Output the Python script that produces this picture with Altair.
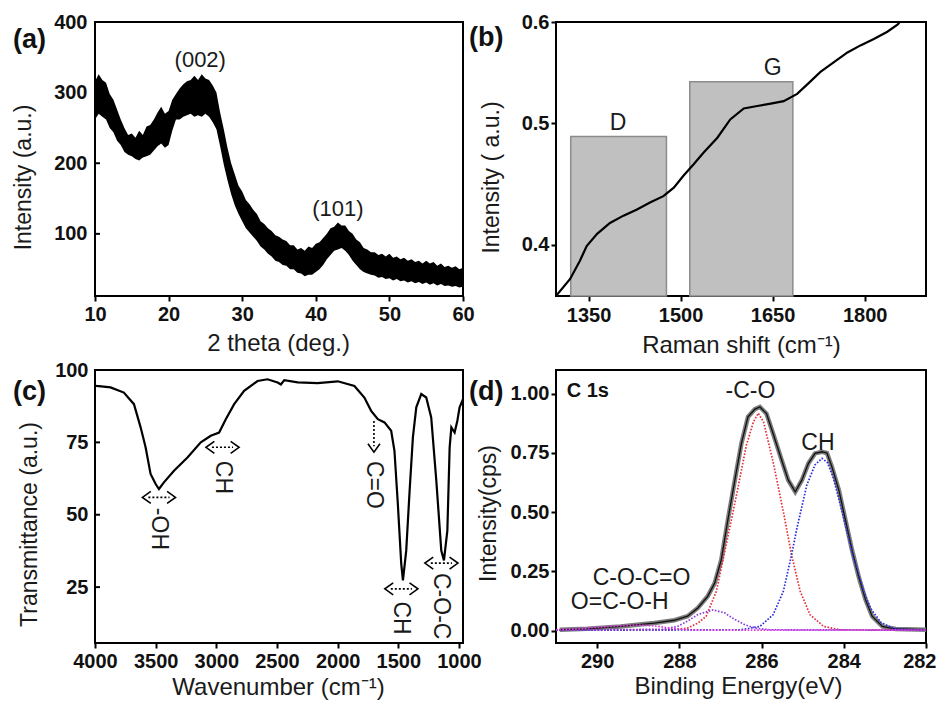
import altair as alt
import pandas as pd

FONT = "Liberation Sans"

# ---------------- (a) XRD ----------------
xrd_2theta = [10, 10.5, 11, 11.5, 12, 12.5, 13, 13.5, 14, 14.5, 15, 15.5, 16, 16.5, 17, 17.5, 18, 18.5,
              19, 19.5, 20, 20.5, 21, 21.5, 22, 22.5, 23, 23.5, 24, 24.5, 25, 25.5, 26, 26.5, 27, 27.5,
              28, 28.5, 29, 29.5, 30, 30.5, 31, 31.5, 32, 32.5, 33, 33.5, 34, 34.5, 35, 35.5, 36, 36.5,
              37, 37.5, 38, 38.5, 39, 39.5, 40, 40.5, 41, 41.5, 42, 42.5, 43, 43.5, 44, 44.5, 45, 45.5,
              46, 46.5, 47, 47.5, 48, 48.5, 49, 49.5, 50, 50.5, 51, 51.5, 52, 52.5, 53, 53.5, 54, 54.5,
              55, 55.5, 56, 56.5, 57, 57.5, 58, 58.5, 59, 59.5, 60]
xrd_hi = [316, 326, 318, 314, 298, 290, 276, 262, 250, 240, 242, 236, 246, 240, 252, 254, 262, 272,
          280, 270, 274, 290, 298, 306, 312, 316, 318, 324, 318, 326, 320, 318, 310, 300, 272, 248,
          222, 200, 184, 168, 160, 148, 142, 134, 128, 118, 114, 108, 104, 98, 96, 92, 90, 84,
          84, 78, 80, 76, 82, 80, 86, 88, 94, 100, 108, 110, 116, 112, 112, 104, 100, 92,
          88, 80, 78, 74, 74, 70, 72, 68, 72, 66, 68, 64, 66, 62, 64, 60, 62, 58,
          62, 58, 60, 55, 58, 53, 55, 52, 54, 50, 52]
xrd_lo = [262, 270, 266, 262, 250, 244, 232, 226, 216, 212, 210, 206, 204, 208, 210, 212, 218, 224,
          228, 222, 226, 246, 262, 262, 266, 268, 270, 266, 268, 266, 270, 266, 258, 248, 224, 198,
          176, 156, 140, 128, 118, 108, 102, 96, 90, 82, 78, 72, 68, 62, 60, 56, 55, 50,
          50, 45, 44, 40, 42, 42, 46, 50, 56, 64, 70, 76, 78, 80, 76, 70, 62, 56,
          50, 46, 44, 42, 41, 38, 39, 36, 37, 34, 36, 33, 34, 31, 33, 30, 32, 29,
          31, 28, 30, 27, 29, 26, 27, 25, 26, 24, 25]
xrd_ticks_x = [10, 20, 30, 40, 50, 60]
xrd_ticks_y = [100, 200, 300, 400]
xrd_labels = ["(002)", "(101)"]
xrd_label_x = [24.3, 43.0]
xrd_label_y = [346, 135]

# ---------------- (b) Raman ----------------
raman_x = [1297, 1320, 1336, 1347, 1364, 1385, 1407, 1429, 1451, 1472, 1489, 1505, 1521, 1538, 1560,
           1581, 1603, 1625, 1647, 1668, 1690, 1707, 1728, 1750, 1772, 1794, 1815, 1837, 1854, 1862]
raman_y = [0.358, 0.372, 0.387, 0.399, 0.409, 0.418, 0.424, 0.429, 0.435, 0.440, 0.447, 0.457, 0.466,
           0.476, 0.488, 0.503, 0.512, 0.514, 0.516, 0.518, 0.524, 0.532, 0.542, 0.550, 0.558, 0.564,
           0.569, 0.575, 0.581, 0.586]
band_names = ["D", "G"]
band_start = [1321, 1515]
band_end = [1477, 1683]
band_top = [0.489, 0.534]
band_label_x = [1398, 1650]
band_label_y = [0.500, 0.545]
raman_ticks_x = [1350, 1500, 1650, 1800]
raman_ticks_y = [0.4, 0.5, 0.583]

# ---------------- (c) FTIR ----------------
ir_w = [4000, 3988, 3872, 3762, 3679, 3624, 3583, 3542, 3500, 3473, 3432, 3349, 3238, 3128, 3046, 2977,
        2922, 2853, 2771, 2660, 2578, 2495, 2468, 2440, 2330, 2165, 1999, 1862, 1780, 1724, 1669, 1614,
        1559, 1532, 1504, 1476, 1462, 1435, 1407, 1380, 1352, 1311, 1270, 1229, 1187, 1146, 1124, 1096,
        1077, 1063, 1036, 1014, 995, 967]
ir_t = [94.6, 94.5, 94.0, 92.2, 88.2, 80.2, 73.3, 64.1, 60.6, 58.9, 61.2, 65.2, 69.8, 75.0, 77.3, 78.4,
        83.0, 88.2, 92.8, 96.2, 96.8, 95.7, 95.0, 96.5, 95.7, 95.5, 96.1, 94.5, 90.5, 85.9, 83.0, 81.9,
        79.0, 72.1, 53.7, 33.0, 27.3, 37.6, 58.3, 76.7, 87.1, 91.7, 90.5, 83.6, 61.8, 37.6, 34.2, 44.5,
        73.3, 80.2, 78.4, 82.4, 87.1, 89.9]
ir_ticks_x = [4000, 3500, 3000, 2500, 2000, 1500, 1000]
ir_ticks_y = [25, 50, 75, 100]
ir_arrow_w = [3473, 2949, 1475, 1145]
ir_arrow_t = [56.0, 73.3, 24.4, 33.3]
ir_arrow_half = 87
ir_down_w = [1701]
ir_down_top = [82.4]
ir_down_tip = [73.7]
ir_labels = ["-OH", "CH", "C=O", "CH", "C-O-C"]
ir_label_w = [3473, 2949, 1701, 1475, 1145]
ir_label_t = [45.1, 62.9, 60.3, 14.3, 18.4]

# ---------------- (d) XPS C1s ----------------
xps_be = [290.91, 290.24, 289.43, 288.61, 288.12, 287.80, 287.55, 287.31, 287.14, 286.98, 286.82, 286.65,
          286.49, 286.33, 286.16, 286.04, 285.88, 285.72, 285.51, 285.35, 285.18, 285.02, 284.86, 284.70,
          284.53, 284.41, 284.29, 284.12, 283.96, 283.80, 283.64, 283.47, 283.31, 283.06, 282.74, 281.96]
xps_env = [0.004, 0.008, 0.018, 0.032, 0.044, 0.061, 0.096, 0.145, 0.201, 0.299, 0.467, 0.635,
           0.790, 0.902, 0.935, 0.944, 0.916, 0.832, 0.719, 0.635, 0.586, 0.635, 0.706, 0.748,
           0.755, 0.750, 0.692, 0.593, 0.467, 0.341, 0.229, 0.130, 0.061, 0.018, 0.007, 0.004]
co_be = [291.0, 288.2, 287.8, 287.55, 287.35, 287.10, 286.86, 286.61, 286.37, 286.2, 286.08, 285.95,
         285.72, 285.47, 285.27, 285.06, 284.82, 284.49, 284.1, 282.0]
co_i = [0.003, 0.003, 0.011, 0.032, 0.060, 0.166, 0.362, 0.572, 0.782, 0.880, 0.918, 0.880,
        0.713, 0.502, 0.320, 0.166, 0.067, 0.018, 0.004, 0.003]
ch_be = [291.0, 286.5, 286.04, 285.72, 285.47, 285.27, 285.14, 284.90, 284.7, 284.53, 284.4, 284.25,
         284.00, 283.76, 283.51, 283.35, 283.1, 282.8, 282.4, 282.0]
ch_i = [0.002, 0.004, 0.018, 0.067, 0.166, 0.320, 0.432, 0.614, 0.700, 0.727, 0.710, 0.642,
        0.474, 0.306, 0.166, 0.095, 0.035, 0.010, 0.004, 0.003]
coco_be = [291.0, 288.4, 288.04, 287.8, 287.55, 287.18, 286.9, 286.65, 286.41, 286.13, 285.8, 282.0]
coco_i = [0.002, 0.006, 0.018, 0.040, 0.068, 0.088, 0.075, 0.047, 0.025, 0.010, 0.004, 0.002]
cooh_be = [291.0, 290.5, 290.0, 289.5, 289.0, 288.6, 288.2, 287.8, 287.4, 282.0]
cooh_i = [0.004, 0.008, 0.014, 0.020, 0.024, 0.020, 0.010, 0.004, 0.002, 0.002]
xps_ticks_x = [290, 288, 286, 284, 282]
xps_ticks_y = [0.0, 0.25, 0.5, 0.75, 1.0]
xps_labels = ["-C-O", "CH", "C-O-C=O", "O=C-O-H"]
xps_label_be = [286.27, 284.63, 288.92, 289.45]
xps_label_i = [1.01, 0.794, 0.222, 0.121]

W_L, W_R = 368, 370
H_TOP, H_BOT = 274, 273
TEXT_COLOR = "#1a1a1a"


def x_axis(title, values, fmt, tx, ty, lp=3, flush=False):
    kw = dict(title=title, values=values, format=fmt, grid=False, domain=False,
              ticks=True, tickSize=5, tickWidth=2, tickColor="black",
              labelPadding=lp, labelFont=FONT, labelFontSize=20, labelFontWeight="bold",
              labelColor="#111111", labelFlush=flush, labelOverlap=False,
              titleFont=FONT, titleFontSize=24, titleFontWeight="normal", titleColor=TEXT_COLOR,
              titleX=tx, titleY=ty, titleBaseline="alphabetic", titleAlign="center", titleAngle=0)
    if flush:
        kw["labelFlushOffset"] = 10
    return alt.Axis(**kw)


def y_axis(title, values, fmt, tx, ty, ticks, lp=7, label_expr=None):
    kw = dict(title=title, values=values, format=fmt, grid=False, domain=False,
              ticks=ticks, tickSize=5 if ticks else 0, tickWidth=2, tickColor="black",
              labelPadding=lp, labelFont=FONT, labelFontSize=20, labelFontWeight="bold",
              labelColor="#111111", labelFlush=False, labelOverlap=False,
              titleFont=FONT, titleFontSize=23, titleFontWeight="normal", titleColor=TEXT_COLOR,
              titleX=tx, titleY=ty, titleBaseline="alphabetic", titleAlign="center", titleAngle=-90)
    if label_expr:
        kw["labelExpr"] = label_expr
    return alt.Axis(**kw)


def panel_label(txt, dx, dy):
    return alt.Chart(pd.DataFrame({"t": [txt]})).mark_text(
        align="left", baseline="middle", font=FONT, fontSize=27, fontWeight="bold", color="#111111"
    ).encode(x=alt.value(dx), y=alt.value(dy), text="t:N")


# ---------- panel (a) ----------
sxa = alt.Scale(domain=[10, 60], nice=False, zero=False)
sya = alt.Scale(domain=[12, 400], nice=False, zero=False)
axa = x_axis("2 theta (deg.)", xrd_ticks_x, "d", 183, 54)
aya = y_axis("Intensity (a.u.)", xrd_ticks_y, "d", -65, 155, False, lp=8)


def XA(f):
    return alt.X(f, type="quantitative", scale=sxa, axis=axa)


def YA(f):
    return alt.Y(f, type="quantitative", scale=sya, axis=aya)


df_xrd = pd.DataFrame({"x": xrd_2theta, "hi": xrd_hi, "lo": xrd_lo})
a_band = alt.Chart(df_xrd).mark_area(color="black", clip=True, opacity=1).encode(
    x=XA("x"), y=YA("hi"), y2="lo")
a_ticks = alt.Chart(pd.DataFrame({"v": [100, 200, 300]})).mark_rule(color="black", strokeWidth=2).encode(
    y=YA("v"), x=alt.value(0), x2=alt.value(5))
a_txt = alt.Chart(pd.DataFrame({"x": xrd_label_x, "y": xrd_label_y, "t": xrd_labels})).mark_text(
    font=FONT, fontSize=22, color=TEXT_COLOR).encode(x=XA("x"), y=YA("y"), text="t:N")
pa = alt.layer(a_band, a_ticks, a_txt, panel_label("(a)", -82, 17.5)).properties(width=W_L, height=H_TOP)

# ---------- panel (b) ----------
sxb = alt.Scale(domain=[1297, 1900], nice=False, zero=False)
syb = alt.Scale(domain=[0.358, 0.583], nice=False, zero=False)
axb = x_axis("Raman shift (cm\u207b\u00b9)", raman_ticks_x, "d", 185, 56, lp=4)
ayb = y_axis("Intensity ( a.u.)", raman_ticks_y, ".1f", -58, 155, True, lp=2,
             label_expr="datum.value > 0.55 ? '0.6' : format(datum.value, '.1f')")


def XB(f):
    return alt.X(f, type="quantitative", scale=sxb, axis=axb)


def YB(f):
    return alt.Y(f, type="quantitative", scale=syb, axis=ayb)


df_bands = pd.DataFrame({"s": band_start, "e": band_end, "top": band_top,
                         "base": [0.358] * len(band_start)})
b_bars = alt.Chart(df_bands).mark_rect(fill="#c0c0c0", stroke="#8c8c8c", strokeWidth=1.5).encode(
    x=XB("s"), x2="e", y=YB("top"), y2="base")
b_line = alt.Chart(pd.DataFrame({"x": raman_x, "y": raman_y})).mark_line(
    color="black", strokeWidth=2.2, clip=True).encode(x=XB("x"), y=YB("y"))
b_txt = alt.Chart(pd.DataFrame({"x": band_label_x, "y": band_label_y, "t": band_names})).mark_text(
    font=FONT, fontSize=23, color=TEXT_COLOR).encode(x=XB("x"), y=YB("y"), text="t:N")
pb = alt.layer(b_bars, b_line, b_txt, panel_label("(b)", -87, 15.5)).properties(width=W_R, height=H_TOP)

# ---------- panel (c) ----------
sxc = alt.Scale(domain=[967, 4000], reverse=True, nice=False, zero=False)
syc = alt.Scale(domain=[5.7, 100], nice=False, zero=False)
axc = x_axis("Wavenumber (cm\u207b\u00b9)", ir_ticks_x, "d", 183, 51)
ayc = y_axis("Transmittance (a.u.)", ir_ticks_y, "d", -58.5, 154, False, lp=7)


def XC(f):
    return alt.X(f, type="quantitative", scale=sxc, axis=axc)


def YC(f):
    return alt.Y(f, type="quantitative", scale=syc, axis=ayc)


c_line = alt.Chart(pd.DataFrame({"x": ir_w, "y": ir_t})).mark_line(
    color="black", strokeWidth=2.2, clip=True).encode(x=XC("x"), y=YC("y"))
c_ticks = alt.Chart(pd.DataFrame({"v": [25, 50, 75]})).mark_rule(color="black", strokeWidth=2).encode(
    y=YC("v"), x=alt.value(0), x2=alt.value(5))
df_arr = pd.DataFrame({"l": [w + ir_arrow_half for w in ir_arrow_w],
                       "r": [w - ir_arrow_half for w in ir_arrow_w], "t": ir_arrow_t})
c_dots = alt.Chart(df_arr).mark_rule(color="black", strokeWidth=1.6, strokeDash=[2, 2]).encode(
    x=XC("l"), x2="r", y=YC("t"))
c_left = alt.Chart(df_arr).mark_point(shape="M 0.4 -1 L -1 0 L 0.4 1", size=144, filled=False,
                                      color="black", strokeWidth=1.6, opacity=1).encode(x=XC("l"), y=YC("t"))
c_right = alt.Chart(df_arr).mark_point(shape="M -0.4 -1 L 1 0 L -0.4 1", size=144, filled=False,
                                       color="black", strokeWidth=1.6, opacity=1).encode(x=XC("r"), y=YC("t"))
df_down = pd.DataFrame({"w": ir_down_w, "top": ir_down_top, "tip": ir_down_tip})
c_vdots = alt.Chart(df_down).mark_rule(color="black", strokeWidth=1.6, strokeDash=[2, 2]).encode(
    x=XC("w"), y=YC("top"), y2="tip")
c_down = alt.Chart(df_down).mark_point(shape="M -1 -0.4 L 0 1 L 1 -0.4", size=144, filled=False,
                                       color="black", strokeWidth=1.6, opacity=1).encode(x=XC("w"), y=YC("tip"))
c_txt = alt.Chart(pd.DataFrame({"x": ir_label_w, "y": ir_label_t, "t": ir_labels})).mark_text(
    font=FONT, fontSize=23, angle=90, color=TEXT_COLOR, align="center", baseline="middle").encode(
    x=XC("x"), y=YC("y"), text="t:N")
pc = alt.layer(c_line, c_ticks, c_dots, c_left, c_right, c_vdots, c_down, c_txt,
               panel_label("(c)", -82, 22)).properties(width=W_L, height=H_BOT)

# ---------- panel (d) ----------
sxd = alt.Scale(domain=[282, 291], reverse=True, nice=False, zero=False)
syd = alt.Scale(domain=[-0.052, 1.1], nice=False, zero=False)
axd = x_axis("Binding Energy(eV)", xps_ticks_x, "d", 182, 50, flush=True)
ayd = y_axis("Intensity(cps)", xps_ticks_y, ".2f", -61, 143, True, lp=2)


def XD(f):
    return alt.X(f, type="quantitative", scale=sxd, axis=axd)


def YD(f):
    return alt.Y(f, type="quantitative", scale=syd, axis=ayd)


df_env = pd.DataFrame({"x": xps_be, "y": xps_env})
d_env_gray = alt.Chart(df_env).mark_line(color="#7d7d7d", strokeWidth=4.5, clip=True).encode(
    x=XD("x"), y=YD("y"))
d_env = alt.Chart(df_env).mark_line(color="#111111", strokeWidth=1.3, clip=True).encode(
    x=XD("x"), y=YD("y"))


def dotted(be, vals, col):
    return alt.Chart(pd.DataFrame({"x": be, "y": vals})).mark_line(
        color=col, strokeWidth=1.7, strokeDash=[1.6, 1.6], clip=True).encode(x=XD("x"), y=YD("y"))


d_co = dotted(co_be, co_i, "#e8303c")
d_ch = dotted(ch_be, ch_i, "#2b2be0")
d_coco = dotted(coco_be, coco_i, "#8a3ce0")
d_cooh = dotted(cooh_be, cooh_i, "#e038e0")
d_txt = alt.Chart(pd.DataFrame({"x": xps_label_be, "y": xps_label_i, "t": xps_labels})).mark_text(
    font=FONT, fontSize=23, color=TEXT_COLOR).encode(x=XD("x"), y=YD("y"), text="t:N")
d_c1s = alt.Chart(pd.DataFrame({"x": [290.74], "y": [1.013], "t": ["C 1s"]})).mark_text(
    font=FONT, fontSize=20, fontWeight="bold", align="left", color="#111111").encode(
    x=XD("x"), y=YD("y"), text="t:N")
pdd = alt.layer(d_env_gray, d_env, d_co, d_ch, d_coco, d_cooh, d_txt, d_c1s,
                panel_label("(d)", -87, 22)).properties(width=W_R, height=H_BOT)

chart = alt.concat(pa, pb, pc, pdd, columns=2, spacing={"row": 74, "column": 93},
                   bounds="flush", align="each").properties(
    padding={"left": 3, "top": 3, "right": 0, "bottom": 0},
    background="white"
).configure_view(stroke="black", strokeWidth=2)

chart.save("out.html", embed_options={"renderer": "svg", "actions": False})
